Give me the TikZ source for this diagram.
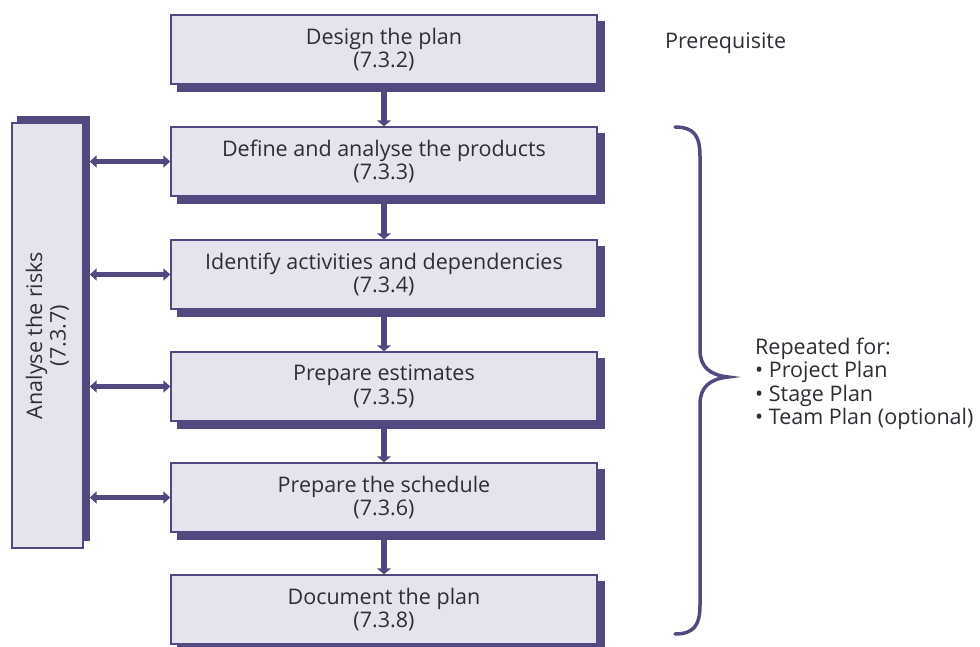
\documentclass[tikz,border=0pt]{standalone}
\usepackage{fontspec}
\setmainfont{Open Sans}
\usetikzlibrary{arrows.meta,backgrounds}
\definecolor{planpurple}{RGB}{84,72,128}
\definecolor{planfill}{RGB}{229,227,237}
\definecolor{plantext}{RGB}{45,45,52}
\begin{document}
\begin{tikzpicture}[x=1pt,y=-1pt,
  labelfont/.style={font=\fontsize{21.5}{23.5}\selectfont, text=plantext},
  stepbox/.style={draw=planpurple, line width=1.4pt, fill=planfill,
    minimum width=426pt, minimum height=69pt, inner sep=0pt,
    align=center, labelfont},
  riskbox/.style={draw=planpurple, line width=1.4pt, fill=planfill,
    minimum width=71pt, minimum height=425pt, inner sep=0pt},
  flow/.style={draw=planpurple, line width=5.5pt,
    -{Triangle[length=6pt,width=14pt]}},
  link/.style={draw=planpurple, line width=5pt,
    {Triangle[length=7pt,width=12pt]}-{Triangle[length=7pt,width=12pt]}},
  brace/.style={draw=planpurple, line width=3.5pt, line cap=round}
]
\useasboundingbox (0,0) rectangle (980,647);

% planning steps
\node[stepbox] (b1) at (384,49.5)  {Design the plan\\(7.3.2)};
\node[stepbox] (b2) at (384,161.5) {Define and analyse the products\\(7.3.3)};
\node[stepbox] (b3) at (384,274.5) {Identify activities and dependencies\\(7.3.4)};
\node[stepbox] (b4) at (384,386.5) {Prepare estimates\\(7.3.5)};
\node[stepbox] (b5) at (384,497.5) {Prepare the schedule\\(7.3.6)};
\node[stepbox] (b6) at (384,609.5) {Document the plan\\(7.3.8)};

% risk analysis column
\node[riskbox] (risk) at (47.5,335.5) {};
\node[rotate=90, align=center, labelfont] (risklabel) at (risk.center)
  {Analyse the risks\\(7.3.7)};

% solid drop shadows
\begin{scope}[on background layer]
  \foreach \n in {b1,b2,b3,b4,b5,b6}
    \fill[planpurple] ([shift={(7,7)}]\n.north west) rectangle ([shift={(7,7)}]\n.south east);
  \fill[planpurple] ([shift={(6,-6)}]risk.north west) rectangle ([shift={(6,-8)}]risk.south east);
\end{scope}

% sequence
\draw[flow] ([yshift=-7pt]b1.south) -- (b2.north);
\draw[flow] ([yshift=-7pt]b2.south) -- (b3.north);
\draw[flow] ([yshift=-7pt]b3.south) -- (b4.north);
\draw[flow] ([yshift=-7pt]b4.south) -- (b5.north);
\draw[flow] ([yshift=-7pt]b5.south) -- (b6.north);

% links with risk analysis
\foreach \n in {b2,b3,b4,b5}
  \draw[link] ([xshift=6pt]risk.east |- \n.west) -- (\n.west);

% brace over the repeated steps
\draw[brace] (675,127) .. controls (694,127) and (700,136) .. (700,156)
  -- (700,350) .. controls (700,367) and (710,375) .. (728,377)
  .. controls (710,379) and (700,387) .. (700,404)
  -- (700,605) .. controls (700,625) and (694,634) .. (675,634);

% side notes
\node[anchor=west, labelfont, inner sep=0pt] (prereq) at (665,43) {Prerequisite};
\node[anchor=west, align=left, labelfont, inner sep=0pt] (repeated) at (755,384)
  {Repeated for:\\• Project Plan\\• Stage Plan\\• Team Plan (optional)};
\end{tikzpicture}
\end{document}
